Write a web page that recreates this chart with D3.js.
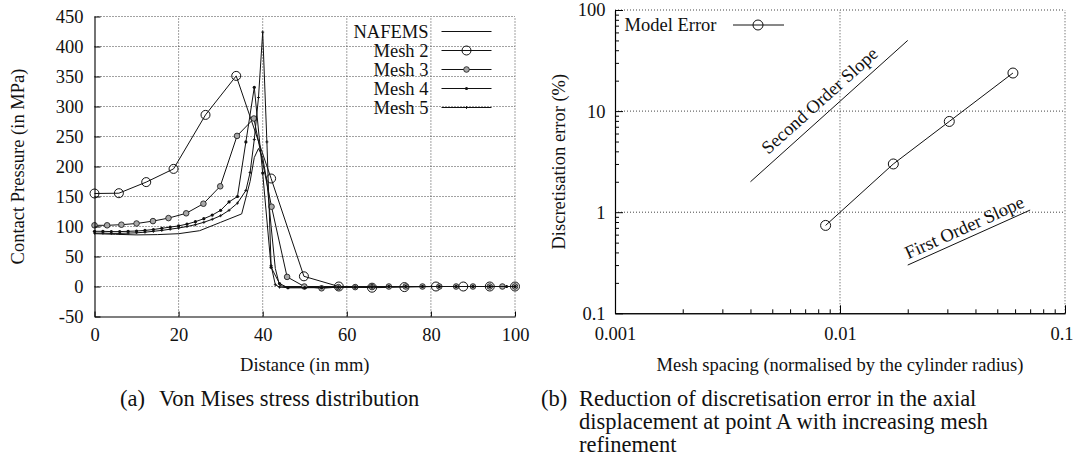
<!DOCTYPE html>
<html>
<head>
<meta charset="utf-8">
<script src="https://cdn.jsdelivr.net/npm/d3@7/dist/d3.min.js"></script>
<style>
  html, body { margin: 0; padding: 0; background: #fff; }
  svg { display: block; }
  text { font-family: "Liberation Serif", "Times New Roman", serif; fill: #111; }
</style>
</head>
<body>
<svg id="fig" width="1075" height="458"></svg>
<script>
// (a) contact pressure along the contact line
const X_TICKS_A = [0, 20, 40, 60, 80, 100];
const Y_TICKS_A = [-50, 0, 50, 100, 150, 200, 250, 300, 350, 400, 450];

const NAFEMS_X = [0, 5, 10, 15, 20, 25, 30, 35, 37, 38, 39, 40, 41, 42, 43, 44, 45, 100];
const NAFEMS_Y = [88, 87, 86, 86.5, 88, 93, 107, 121, 175, 215, 230, 215, 175, 100, 30, 2, 0, 0];

const MESH2_X = [0, 5.8, 12.3, 18.8, 26.4, 33.7, 42, 49.8, 58.1, 66, 73.7, 81.2, 87.7, 94, 100];
const MESH2_Y = [155, 155.5, 174, 196, 286, 351, 180, 17, 0, -2, -1, 0, 0, 0, 0];

const MESH3_X = [0, 3, 6.4, 10, 13.9, 17.6, 21.8, 25.9, 29.9, 33.9, 37.9, 42.1, 45.8, 49.9, 54, 58, 62, 66, 70, 74, 78, 82, 86, 90, 94, 97, 100];
const MESH3_Y = [102, 102, 103, 105, 109, 114, 122, 138, 167, 251, 280, 133, 16, 0, -3, -1, -1, -1, 0, 0, 0, 0, 0, 0, 0, 0, 0];

const MESH4_X = [0, 2, 4, 6, 8, 10, 12, 14, 16, 18, 20, 22, 24, 26, 28, 30, 32, 34, 36, 38, 40, 42, 44, 46, 50, 54, 58, 62, 66, 70, 74, 78, 82, 86, 90, 94, 98, 100];
const MESH4_Y = [92, 92, 91.5, 91.5, 92, 92.5, 93.5, 95, 97, 99, 101, 104, 108, 113, 119, 127, 141, 150, 241, 332, 189, 32, 5, -2, -2, -2, -1, -1, -1, 0, 0, 0, 0, 0, 0, 0, 0, 0];

const MESH5_X = [0, 2, 4, 6, 8, 10, 12, 14, 16, 18, 20, 22, 24, 26, 28, 30, 32, 34, 36, 37, 38, 39, 40, 41, 42, 43, 44, 46, 50, 54, 58, 62, 66, 70, 74, 78, 82, 86, 90, 94, 98, 100];
const MESH5_Y = [89, 89, 88.5, 88.5, 89, 89.5, 90.5, 92, 93.5, 95.5, 97.5, 100, 103, 107, 112, 118, 127, 139, 160, 190, 245, 315, 424, 241, 35, 3, -1, -2, -2, -1, -1, -1, 0, 0, 0, 0, 0, 0, 0, 0, 0, 0];

const LEGEND_A = ["NAFEMS", "Mesh 2", "Mesh 3", "Mesh 4", "Mesh 5"];

// (b) discretisation error vs mesh spacing
const X_TICKS_B = [0.001, 0.01, 0.1];
const Y_TICKS_B = [0.1, 1, 10, 100];
const SPACING = [0.00863, 0.01726, 0.0306, 0.0587];
const ERROR = [0.74, 3.0, 7.9, 23.8];
const SLOPE2_X = [0.004, 0.02], SLOPE2_Y = [2, 50];
const SLOPE1_X = [0.02, 0.07], SLOPE1_Y = [0.3, 1.05];

const INK = "#111", GRID = "#444";
const svg = d3.select("#fig");
svg.append("rect").attr("width", 1075).attr("height", 458).attr("fill", "#fff");

const zip = (xs, ys) => xs.map((x, i) => [x, ys[i]]);
const plain = d => String(d);   // hyphen minus, like the original

// ---------- panel (a) ----------
const xA = d3.scaleLinear().domain([0, 100]).range([94.5, 515]);
const yA = d3.scaleLinear().domain([-50, 450]).range([316.5, 16.5]);
const gA = svg.append("g");

X_TICKS_A.slice(1).forEach(v => {
  gA.append("line").attr("x1", xA(v)).attr("x2", xA(v)).attr("y1", yA(-50)).attr("y2", yA(450))
    .attr("stroke", GRID).attr("stroke-dasharray", "1,2");
});
Y_TICKS_A.slice(1).forEach(v => {
  gA.append("line").attr("x1", xA(0)).attr("x2", xA(100)).attr("y1", yA(v)).attr("y2", yA(v))
    .attr("stroke", GRID).attr("stroke-dasharray", "1,2");
});

const lineA = d3.line().x(d => xA(d[0])).y(d => yA(d[1]));
const SERIES_A = [
  { name: LEGEND_A[0], pts: zip(NAFEMS_X, NAFEMS_Y), mark: "none" },
  { name: LEGEND_A[1], pts: zip(MESH2_X, MESH2_Y), mark: "big" },
  { name: LEGEND_A[2], pts: zip(MESH3_X, MESH3_Y), mark: "small" },
  { name: LEGEND_A[3], pts: zip(MESH4_X, MESH4_Y), mark: "dot" },
  { name: LEGEND_A[4], pts: zip(MESH5_X, MESH5_Y), mark: "plus" },
];

function marker(g, kind, cx, cy) {
  if (kind === "big") g.append("circle").attr("cx", cx).attr("cy", cy).attr("r", 4.5)
    .attr("fill", "none").attr("stroke", INK).attr("stroke-width", 1);
  else if (kind === "small") g.append("circle").attr("cx", cx).attr("cy", cy).attr("r", 2.8)
    .attr("fill", "#a8a8a8").attr("stroke", "#222").attr("stroke-width", 0.9);
  else if (kind === "dot") g.append("circle").attr("cx", cx).attr("cy", cy).attr("r", 1.6).attr("fill", INK);
  else if (kind === "plus") g.append("path").attr("d", `M${cx - 1.5},${cy}H${cx + 1.5}M${cx},${cy - 1.5}V${cy + 1.5}`)
    .attr("stroke", INK).attr("stroke-width", 0.9);
}

SERIES_A.forEach(s => {
  gA.append("path").attr("d", lineA(s.pts)).attr("fill", "none").attr("stroke", INK).attr("stroke-width", 1);
  s.pts.forEach(p => marker(gA, s.mark, xA(p[0]), yA(p[1])));
});

// legend (a)
SERIES_A.forEach((s, i) => {
  const cy = 31.5 + i * 19;
  gA.append("text").attr("x", 428.5).attr("y", cy).attr("dy", "0.35em").attr("text-anchor", "end")
    .attr("font-size", 18.5).text(s.name);
  gA.append("line").attr("x1", 441.5).attr("x2", 491.5).attr("y1", cy).attr("y2", cy)
    .attr("stroke", INK).attr("stroke-width", 1);
  marker(gA, s.mark, 466.5, cy);
});

function styleAxis(g) {
  g.attr("font-family", null).attr("font-size", null);
  g.select(".domain").attr("stroke", "#000").attr("stroke-width", 1.1);
  g.selectAll(".tick line").attr("stroke", "#000");
  g.selectAll(".tick text").attr("font-size", 18.5).attr("fill", INK);
}

gA.append("g").attr("transform", `translate(0,${yA(-50)})`)
  .call(d3.axisBottom(xA).tickValues(X_TICKS_A).tickSize(-5).tickSizeOuter(0).tickPadding(11).tickFormat(plain))
  .call(styleAxis);
gA.append("g").attr("transform", `translate(${xA(0)},0)`)
  .call(d3.axisLeft(yA).tickValues(Y_TICKS_A).tickSize(-6).tickSizeOuter(0).tickPadding(11).tickFormat(plain))
  .call(styleAxis);

gA.append("text").attr("x", (xA(0) + xA(100)) / 2).attr("y", 370.5).attr("text-anchor", "middle")
  .attr("font-size", 18.5).text("Distance (in mm)");
gA.append("text").attr("transform", `translate(24,${(yA(-50) + yA(450)) / 2}) rotate(-90)`)
  .attr("text-anchor", "middle").attr("font-size", 18.5).text("Contact Pressure (in MPa)");

// ---------- panel (b) ----------
const xB = d3.scaleLog().domain([0.001, 0.1]).range([615, 1065]);
const yB = d3.scaleLog().domain([0.1, 100]).range([313.3, 10]);
const gB = svg.append("g");

X_TICKS_B.slice(1).forEach(v => {
  gB.append("line").attr("x1", xB(v)).attr("x2", xB(v)).attr("y1", yB(0.1)).attr("y2", yB(100))
    .attr("stroke", GRID).attr("stroke-dasharray", "1,2");
});
Y_TICKS_B.slice(1).forEach(v => {
  gB.append("line").attr("x1", xB(0.001)).attr("x2", xB(0.1)).attr("y1", yB(v)).attr("y2", yB(v))
    .attr("stroke", GRID).attr("stroke-dasharray", "1,2");
});

const minorX = xB.ticks().filter(v => !X_TICKS_B.some(t => Math.abs(t - v) < 1e-12));
const minorY = yB.ticks().filter(v => !Y_TICKS_B.some(t => Math.abs(t - v) < 1e-12));

gB.append("g").attr("transform", `translate(0,${yB(0.1)})`)
  .call(d3.axisBottom(xB).tickValues(minorX).tickSize(-4).tickSizeOuter(0).tickFormat(""))
  .call(styleAxis);
gB.append("g").attr("transform", `translate(${xB(0.001)},0)`)
  .call(d3.axisLeft(yB).tickValues(minorY).tickSize(-4).tickSizeOuter(0).tickFormat(""))
  .call(styleAxis);
const axXB = gB.append("g").attr("transform", `translate(0,${yB(0.1)})`)
  .call(d3.axisBottom(xB).tickValues(X_TICKS_B).tickSize(-8).tickSizeOuter(0).tickPadding(14).tickFormat(plain))
  .call(styleAxis);
// last label sits on the page edge: keep it inside
axXB.selectAll(".tick text").filter(d => d === X_TICKS_B[X_TICKS_B.length - 1])
  .attr("text-anchor", "end").attr("x", 1073 - xB(X_TICKS_B[X_TICKS_B.length - 1]));
gB.append("g").attr("transform", `translate(${xB(0.001)},0)`)
  .call(d3.axisLeft(yB).tickValues(Y_TICKS_B).tickSize(-8).tickSizeOuter(0).tickPadding(9.5).tickFormat(plain))
  .call(styleAxis);

// reference slopes
function slope(xs, ys, label, off) {
  const p0 = [xB(xs[0]), yB(ys[0])], p1 = [xB(xs[1]), yB(ys[1])];
  gB.append("line").attr("x1", p0[0]).attr("y1", p0[1]).attr("x2", p1[0]).attr("y2", p1[1])
    .attr("stroke", INK).attr("stroke-width", 1);
  const ang = Math.atan2(p1[1] - p0[1], p1[0] - p0[0]);
  const mx = (p0[0] + p1[0]) / 2 + off * Math.sin(ang);
  const my = (p0[1] + p1[1]) / 2 - off * Math.cos(ang);
  gB.append("text").attr("transform", `translate(${mx},${my}) rotate(${ang * 180 / Math.PI})`)
    .attr("text-anchor", "middle").attr("font-size", 18.5).text(label);
}
slope(SLOPE2_X, SLOPE2_Y, "Second Order Slope", 8);
slope(SLOPE1_X, SLOPE1_Y, "First Order Slope", 5);

const lineB = d3.line().x(d => xB(d[0])).y(d => yB(d[1]));
const errPts = zip(SPACING, ERROR);
gB.append("path").attr("d", lineB(errPts)).attr("fill", "none").attr("stroke", INK).attr("stroke-width", 1);
errPts.forEach(p => gB.append("circle").attr("cx", xB(p[0])).attr("cy", yB(p[1])).attr("r", 5)
  .attr("fill", "none").attr("stroke", INK).attr("stroke-width", 1));

// legend (b)
gB.append("text").attr("x", 624.5).attr("y", 25).attr("dy", "0.35em").attr("font-size", 18.5).text("Model Error");
gB.append("line").attr("x1", 733).attr("x2", 784).attr("y1", 25).attr("y2", 25).attr("stroke", INK);
gB.append("circle").attr("cx", 758).attr("cy", 25).attr("r", 5).attr("fill", "none").attr("stroke", INK);

gB.append("text").attr("x", (xB(0.001) + xB(0.1)) / 2).attr("y", 370.5).attr("text-anchor", "middle")
  .attr("font-size", 18.5).text("Mesh spacing (normalised by the cylinder radius)");
gB.append("text").attr("transform", `translate(565,${(yB(0.1) + yB(100)) / 2}) rotate(-90)`)
  .attr("text-anchor", "middle").attr("font-size", 18.5).text("Discretisation error (%)");

// ---------- captions ----------
const CAP_A = ["Von Mises stress distribution"];
const CAP_B = ["Reduction of discretisation error in the axial",
               "displacement at point A with increasing mesh",
               "refinement"];
const cap = svg.append("g").attr("font-size", 22.5);
cap.append("text").attr("x", 120).attr("y", 405.5).text("(a)");
CAP_A.forEach((t, i) => cap.append("text").attr("x", 159).attr("y", 405.5 + i * 23.3).text(t));
cap.append("text").attr("x", 541).attr("y", 405.5).text("(b)");
CAP_B.forEach((t, i) => cap.append("text").attr("x", 579).attr("y", 405.5 + i * 23.3).text(t));
</script>
</body>
</html>
